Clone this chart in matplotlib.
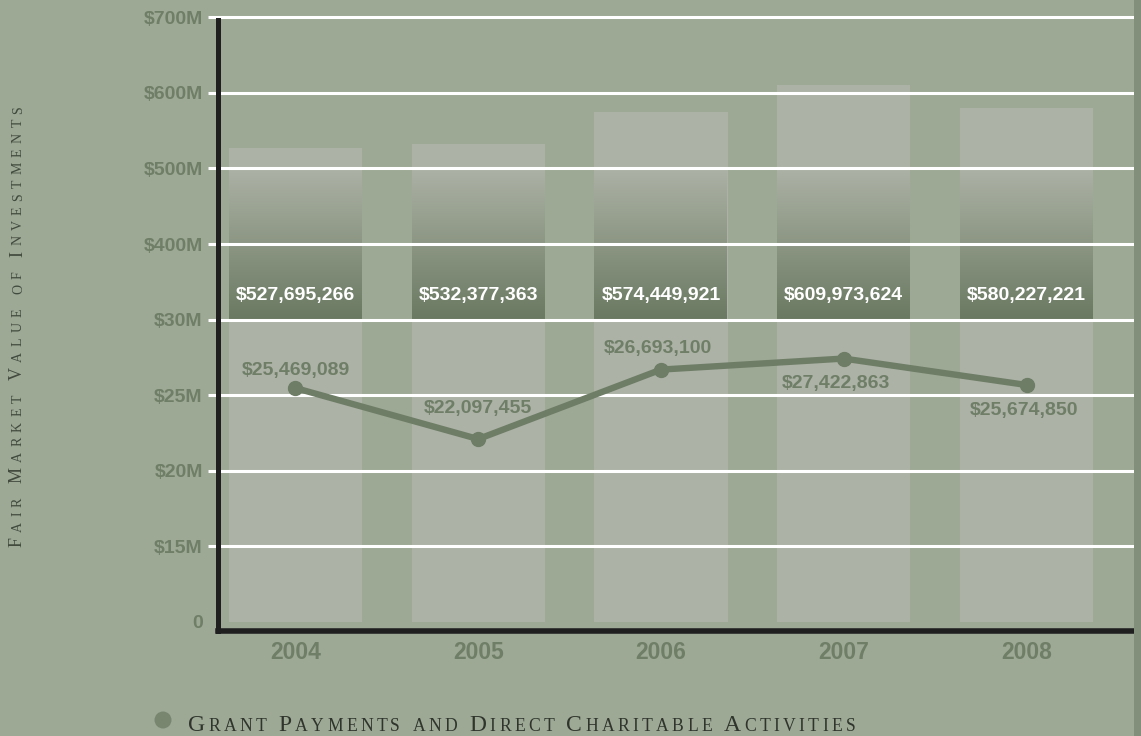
import numpy as np
import matplotlib
matplotlib.use("Agg")
import matplotlib.pyplot as plt
from matplotlib.colors import LinearSegmentedColormap
from matplotlib.patches import Rectangle, Ellipse

years = ["2004", "2005", "2006", "2007", "2008"]
investments = [527695266, 532377363, 574449921, 609973624, 580227221]
grants = [25469089, 22097455, 26693100, 27422863, 25674850]

# broken y scale: every tick sits one step above the previous one
tick_values = [0, 15e6, 20e6, 25e6, 30e6, 400e6, 500e6, 600e6, 700e6]
tick_labels = ["0", "$15M", "$20M", "$25M", "$30M", "$400M", "$500M", "$600M", "$700M"]

y_title = "Fair Market Value of Investments"
legend_text = "Grant Payments and Direct Charitable Activities"

BG = "#9da895"
BAR = "#acb2a6"
DARK = "#6a7962"
TXT = "#6f7e67"
SERIF = "Liberation Serif"
SANS = "Liberation Sans"

W, H, DPI = 1141, 736, 100
steps = np.arange(len(tick_values), dtype=float)
tv = np.array(tick_values, dtype=float)


def fwd(v):
    v = np.asarray(v, dtype=float)
    out = np.interp(v, tv, steps)
    out = np.where(v < tv[0], (v - tv[0]) / (tv[1] - tv[0]), out)
    out = np.where(v > tv[-1], steps[-1] + (v - tv[-1]) / (tv[-1] - tv[-2]), out)
    return out


def inv(u):
    u = np.asarray(u, dtype=float)
    out = np.interp(u, steps, tv)
    out = np.where(u < 0, u * (tv[1] - tv[0]), out)
    out = np.where(u > steps[-1], tv[-1] + (u - steps[-1]) * (tv[-1] - tv[-2]), out)
    return out


fig = plt.figure(figsize=(W / DPI, H / DPI), dpi=DPI, facecolor=BG)
# darker strip on the right edge
fig.patches.append(Rectangle((1134 / W, 0), 7 / W, 1, transform=fig.transFigure,
                             facecolor="#82907b", edgecolor="none", zorder=0))

ax = fig.add_axes([218 / W, (H - 631) / H, (1134 - 218) / W, (631 - 15) / H])
ax.set_facecolor("none")
ax.set_yscale("function", functions=(fwd, inv))
ax.set_ylim(inv(-0.12), inv(8.03))
ax.set_xlim(-0.424, 4.588)

x = np.arange(len(years))
bw = 0.728
ax.bar(x, investments, width=bw, color=BAR, zorder=1)

# gradient band from $500M down to the $30M line
cmap = LinearSegmentedColormap.from_list("band", [BAR, "#8c9683", DARK])
grad = np.linspace(0, 1, 256).reshape(-1, 1)
y_lo = ax.transAxes.inverted().transform(ax.transData.transform((0, tick_values[4])))[1]
y_hi = ax.transAxes.inverted().transform(ax.transData.transform((0, tick_values[6])))[1]
for xi in x:
    ax.imshow(grad, cmap=cmap, aspect="auto", origin="upper",
              extent=(xi - bw / 2, xi + bw / 2, y_lo, y_hi),
              transform=ax.get_xaxis_transform(), zorder=1.5)
ax.set_xlim(-0.424, 4.588)

for xi, v in zip(x, investments):
    ax.annotate(f"${v:,.0f}", xy=(xi, tick_values[4]), xytext=(0, 24),
                textcoords="offset pixels", ha="center", va="center",
                color="white", fontsize=14, fontweight="bold", family=SANS, zorder=4)

ax.set_yticks(tick_values)
ax.set_yticklabels(tick_labels)
ax.yaxis.grid(True, color="white", linewidth=2.2, zorder=2)
ax.set_axisbelow(False)
ax.get_ygridlines()[0].set_visible(False)
ax.tick_params(axis="y", direction="out", length=7, width=2.2, color="white",
               pad=4, labelsize=14, labelcolor=TXT)
ax.yaxis.get_major_ticks()[0].tick1line.set_visible(False)
for lab in ax.get_yticklabels():
    lab.set_fontweight("bold")
    lab.set_family(SANS)

ax.set_xticks(x)
ax.set_xticklabels(years)
ax.tick_params(axis="x", length=0, pad=7, labelsize=16.5, labelcolor=TXT)
for lab in ax.get_xticklabels():
    lab.set_fontweight("bold")
    lab.set_family(SANS)

for s in ["top", "right"]:
    ax.spines[s].set_visible(False)
ax.spines["left"].set_color("#1f1f1f")
ax.spines["left"].set_linewidth(3.6)
ax.spines["left"].set_bounds(inv(-0.12), inv(7.96))
ax.spines["bottom"].set_color("#1f1f1f")
ax.spines["bottom"].set_linewidth(4.0)
ax.spines["left"].set_zorder(5)
ax.spines["bottom"].set_zorder(5)

LINE = "#6e7d66"
ax.plot(x, grants, color=LINE, linewidth=4.6, marker="o", markersize=10,
        solid_capstyle="round", zorder=3)

offsets = [(0, 18), (0, 31), (-3, 21), (-8, -25), (-2, -26)]
for xi, v, off in zip(x, grants, offsets):
    ax.annotate(f"${v:,.0f}", xy=(xi, v), xytext=off, textcoords="offset pixels",
                ha="center", va="center", color=TXT, fontsize=14,
                fontweight="bold", family=SANS, zorder=4)

renderer = fig.canvas.get_renderer()


def small_caps(x0, y0, text, big, small, color, rotation=0, track=1.5, word_gap=7):
    # places each glyph one after another; x0, y0 in pixels from bottom-left
    pos = 0.0
    for word in text.split(" "):
        for k, ch in enumerate(word):
            size = big if (k == 0 and ch.isupper()) else small
            t = fig.text(0, 0, ch.upper(), fontsize=size, family=SERIF, color=color,
                         ha="left", va="baseline", rotation=0)
            w = t.get_window_extent(renderer).width
            if rotation == 90:
                t.set_position((x0 / W, (y0 + pos) / H))
                t.set_rotation(90)
                t.set_rotation_mode("anchor")
            else:
                t.set_position(((x0 + pos) / W, y0 / H))
            pos += w + track
        pos += word_gap
    return pos


small_caps(22, H - 547, y_title, 13, 10, "#414a3d", rotation=90, track=5.3, word_gap=9)
small_caps(188, H - 731, legend_text, 17, 12.7, "#2f352c", track=3.3, word_gap=9)
fig.patches.append(Ellipse((163 / W, (H - 720) / H), 17 / W, 17 / H,
                           transform=fig.transFigure, facecolor="#78866f",
                           edgecolor="none"))

fig.savefig("out.png", dpi=DPI, facecolor=BG)
